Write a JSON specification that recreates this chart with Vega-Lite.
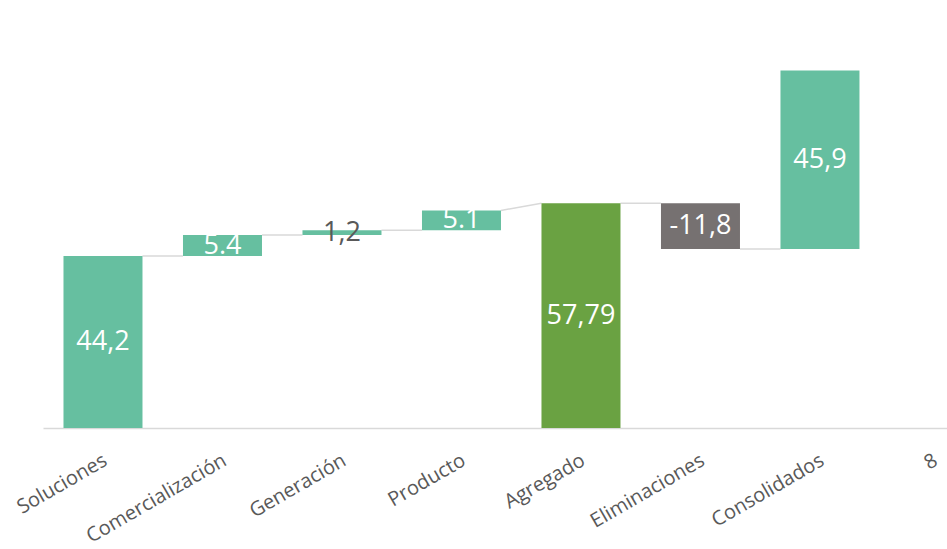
{
  "$schema": "https://vega.github.io/schema/vega-lite/v6.json",
  "width": 904,
  "height": 428,
  "autosize": {"type": "none"},
  "padding": {"left": 43, "top": 0, "right": 0, "bottom": 121},
  "background": "white",
  "config": {"view": {"stroke": null}, "font": "Open Sans"},
  "layer": [
    {
      "data": {"values": [
        {"from": 0, "to": 1, "y1": 44.2, "y2": 44.2},
        {"from": 1, "to": 2, "y1": 49.6, "y2": 49.6},
        {"from": 2, "to": 3, "y1": 50.8, "y2": 50.8},
        {"from": 3, "to": 4, "y1": 55.9, "y2": 57.79},
        {"from": 4, "to": 5, "y1": 57.79, "y2": 57.79},
        {"from": 5, "to": 6, "y1": 45.99, "y2": 45.99}
      ]},
      "mark": {"type": "rule", "color": "#d9d9d9", "strokeWidth": 1.5, "xOffset": 39.5, "x2Offset": -39.5},
      "encoding": {
        "x": {"field": "from", "type": "quantitative"},
        "x2": {"field": "to"},
        "y": {"field": "y1", "type": "quantitative"},
        "y2": {"field": "y2"}
      }
    },
    {
      "data": {"values": [
        {"i": 0, "cat": "Soluciones", "start": 0, "end": 44.2, "label": "44,2", "kind": "pos"},
        {"i": 1, "cat": "Comercialización", "start": 44.2, "end": 49.6, "label": "5.4", "kind": "pos"},
        {"i": 2, "cat": "Generación", "start": 49.6, "end": 50.8, "label": "1,2", "kind": "pos"},
        {"i": 3, "cat": "Producto", "start": 50.8, "end": 55.9, "label": "5.1", "kind": "pos"},
        {"i": 4, "cat": "Agregado", "start": 0, "end": 57.79, "label": "57,79", "kind": "total"},
        {"i": 5, "cat": "Eliminaciones", "start": 57.79, "end": 45.99, "label": "-11,8", "kind": "neg"},
        {"i": 6, "cat": "Consolidados", "start": 45.99, "end": 91.89, "label": "45,9", "kind": "pos"}
      ]},
      "layer": [
        {
          "mark": {"type": "bar", "width": 79},
          "encoding": {
            "x": {
              "field": "i", "type": "quantitative",
              "scale": {"domain": [-0.502, 7.063], "nice": false, "zero": false, "padding": 0},
              "axis": {
                "title": null, "ticks": false, "grid": false,
                "values": [0, 1, 2, 3, 4, 5, 6, 7],
                "labelExpr": "['Soluciones','Comercialización','Generación','Producto','Agregado','Eliminaciones','Consolidados','8'][datum.value]",
                "domainColor": "#d9d9d9", "domainWidth": 1.5,
                "labelAngle": -30, "labelAlign": "right", "labelBaseline": "top",
                "labelOffset": {"condition": {"test": "datum.value === 7", "value": -9}, "value": -3},
                "labelPadding": 22, "labelFontSize": 20, "labelColor": "#595959",
                "labelFont": "Open Sans", "labelOverlap": false, "labelBound": false, "labelFlush": false
              }
            },
            "y": {"field": "start", "type": "quantitative", "scale": {"domain": [0, 110], "nice": false}, "axis": null},
            "y2": {"field": "end"},
            "color": {
              "field": "kind", "type": "nominal", "legend": null,
              "scale": {"domain": ["pos", "total", "neg"], "range": ["#66bfa0", "#6aa242", "#767171"]}
            }
          }
        },
        {
          "transform": [{"calculate": "(datum.start + datum.end) / 2", "as": "mid"}],
          "mark": {"type": "text", "fontSize": 27, "font": "Open Sans", "baseline": "middle", "align": "center"},
          "encoding": {
            "x": {"field": "i", "type": "quantitative"},
            "y": {"field": "mid", "type": "quantitative"},
            "text": {"field": "label"},
            "color": {
              "condition": {"test": "datum.cat === 'Generación'", "value": "#595959"},
              "value": "white"
            }
          }
        }
      ]
    }
  ]
}
